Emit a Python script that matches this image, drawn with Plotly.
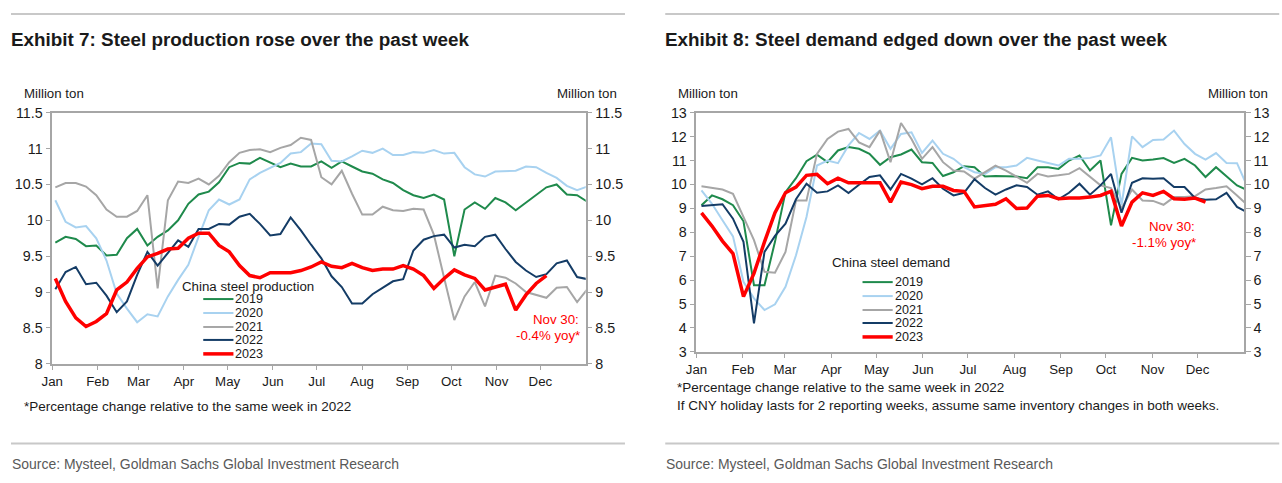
import plotly.graph_objects as go

# ---------------- data ----------------
years = ["2019", "2020", "2021", "2022", "2023"]
colors = ["#1f8a4c", "#a8d2f0", "#a6a6a6", "#143c66", "#ff0000"]
widths = [2, 2, 2, 2, 3.5]

month_labels = ["Jan", "Feb", "Mar", "Apr", "May", "Jun", "Jul", "Aug", "Sep", "Oct", "Nov", "Dec"]
month_start_day = [0, 31, 59, 90, 120, 151, 181, 212, 243, 273, 304, 334]

# Exhibit 7: weekly China steel production (million ton)
prod_2019 = [9.69, 9.77, 9.74, 9.64, 9.65, 9.51, 9.52, 9.75, 9.88, 9.65, 9.77, 9.86, 10.0, 10.23, 10.36, 10.4,
             10.53, 10.74, 10.8, 10.79, 10.87, 10.81, 10.74, 10.79, 10.75, 10.75, 10.82, 10.73, 10.82, 10.75,
             10.68, 10.65, 10.57, 10.52, 10.42, 10.35, 10.31, 10.36, 10.29, 9.5, 10.15, 10.25, 10.16, 10.31,
             10.25, 10.14, 10.25, 10.36, 10.46, 10.5, 10.36, 10.35, 10.26]
prod_2020 = [10.28, 9.98, 9.9, 9.92, 9.75, 9.44, 8.98, 8.77, 8.58, 8.69, 8.66, 8.94, 9.17, 9.38, 9.77, 10.14,
             10.29, 10.22, 10.29, 10.57, 10.66, 10.73, 10.8, 10.93, 10.95, 11.07, 11.06, 10.83, 10.82, 10.89,
             10.97, 10.94, 11.0, 10.91, 10.91, 10.95, 10.94, 10.98, 10.93, 10.94, 10.74, 10.64, 10.61, 10.68,
             10.69, 10.69, 10.75, 10.74, 10.66, 10.59, 10.48, 10.42, 10.47]
prod_2021 = [10.46, 10.52, 10.52, 10.47, 10.35, 10.15, 10.05, 10.05, 10.13, 10.35, 9.05, 10.28, 10.54, 10.52,
             10.58, 10.5, 10.62, 10.81, 10.94, 10.98, 10.99, 10.95, 11.01, 11.05, 11.15, 11.12, 10.6, 10.5,
             10.69, 10.37, 10.08, 10.08, 10.19, 10.14, 10.13, 10.16, 10.15, 9.8, 9.2, 8.61, 8.94, 9.14, 8.8,
             9.23, 9.2, 9.12, 9.0, 8.96, 8.92, 9.06, 9.07, 8.86, 9.04]
prod_2022 = [9.04, 9.28, 9.35, 9.11, 9.13, 8.95, 8.72, 8.87, 9.24, 9.56, 9.37, 9.55, 9.72, 9.63, 9.88, 9.88,
             9.95, 9.94, 10.05, 10.09, 9.95, 9.79, 9.81, 10.04, 9.86, 9.66, 9.47, 9.22, 9.07, 8.84, 8.84,
             8.97, 9.06, 9.15, 9.18, 9.58, 9.73, 9.78, 9.8, 9.62, 9.66, 9.64, 9.77, 9.8, 9.6, 9.42, 9.3,
             9.21, 9.25, 9.4, 9.44, 9.21, 9.18]
prod_2023 = [9.19, 8.87, 8.64, 8.52, 8.59, 8.7, 9.03, 9.14, 9.33, 9.49, 9.54, 9.6, 9.61, 9.75, 9.82, 9.82,
             9.65, 9.56, 9.37, 9.23, 9.2, 9.27, 9.27, 9.27, 9.3, 9.35, 9.42, 9.36, 9.34, 9.4, 9.34, 9.3,
             9.32, 9.32, 9.37, 9.32, 9.23, 9.05, 9.19, 9.31, 9.24, 9.19, 9.03, 9.07, 9.11, 8.75, 8.96,
             9.12, 9.23]

# Exhibit 8: weekly China steel demand (million ton)
dem_2019 = [9.13, 9.54, 9.38, 9.13, 8.46, 5.79, 5.79, 7.6, 9.68, 10.26, 10.97, 11.24, 10.93, 11.42, 11.56,
            11.49, 11.28, 10.82, 11.14, 11.25, 11.46, 10.93, 10.9, 10.35, 10.51, 10.76, 10.72, 10.33, 10.35,
            10.35, 10.33, 10.26, 10.72, 10.72, 10.65, 11.0, 11.21, 10.58, 11.0, 8.29, 10.44, 11.11, 11.0,
            11.04, 11.1, 10.9, 11.07, 10.79, 10.31, 10.72, 10.35, 9.96, 9.75]
dem_2020 = [9.75, 9.19, 8.5, 7.83, 5.93, 5.24, 4.75, 4.99, 5.72, 7.04, 8.64, 10.79, 11.0, 10.89, 11.63,
            12.15, 11.9, 12.25, 11.49, 12.11, 12.18, 11.32, 11.83, 11.28, 11.07, 10.72, 10.51, 10.44, 10.72,
            10.72, 10.79, 11.11, 11.0, 10.9, 10.79, 11.07, 11.07, 11.11, 11.21, 11.97, 9.13, 12.01, 11.56,
            11.86, 11.88, 12.25, 11.69, 11.28, 11.04, 11.31, 10.9, 10.89, 9.89]
dem_2021 = [9.92, 9.85, 9.79, 9.61, 8.64, 7.67, 6.35, 6.31, 7.18, 9.33, 9.33, 11.28, 11.9, 12.21, 12.32,
            11.76, 11.56, 12.25, 10.93, 12.57, 11.9, 11.07, 11.56, 10.93, 10.58, 10.54, 10.24, 10.51, 10.79,
            10.58, 10.31, 10.07, 10.44, 10.33, 10.38, 10.44, 10.68, 10.31, 9.96, 9.85, 8.99, 9.79, 9.33,
            9.31, 9.15, 9.47, 9.47, 9.51, 9.79, 9.85, 9.92, 9.54, 9.13]
dem_2022 = [9.1, 9.13, 9.17, 8.57, 7.6, 4.19, 7.18, 7.85, 8.36, 9.38, 10.03, 9.65, 9.71, 9.96, 9.64, 9.99,
            10.31, 10.38, 9.79, 10.44, 10.24, 10.0, 10.26, 9.82, 9.54, 9.65, 10.22, 9.85, 9.57, 9.79, 9.96,
            9.89, 9.57, 9.71, 9.38, 9.65, 10.03, 9.57, 9.96, 10.44, 8.82, 10.07, 10.26, 10.24, 10.26, 9.89,
            9.89, 9.43, 9.36, 9.38, 9.65, 9.06, 8.82]
dem_2023 = [8.81, 8.26, 7.63, 7.11, 5.31, 6.28, 7.6, 8.82, 9.65, 9.89, 10.38, 10.42, 10.03, 10.26, 10.07,
            10.07, 10.07, 10.07, 9.26, 10.1, 9.99, 9.82, 9.92, 9.92, 9.75, 9.71, 9.06, 9.12, 9.17, 9.4,
            8.99, 9.01, 9.51, 9.54, 9.4, 9.43, 9.43, 9.47, 9.54, 9.71, 8.26, 9.26, 9.65, 9.54, 9.71, 9.4,
            9.38, 9.43, 9.26]

production = [prod_2019, prod_2020, prod_2021, prod_2022, prod_2023]
demand = [dem_2019, dem_2020, dem_2021, dem_2022, dem_2023]

# ---------------- layout helpers ----------------
W, H = 1282, 483
# the photographed page shows the paper slightly inset/scaled; place items so they land on target pixels
OX, SX = 12.0, 0.985
OY, SY = 7.0, 0.970
FS = 1 / 0.978  # font compensation

def px(x):
    return ((x - OX) / SX) / W
def py(y):
    return 1 - ((y - OY) / SY) / H
def f(s):
    return round(s * FS, 2)

TXT = "#1a1a1a"
AX = "#a6a6a6"
BASE = "Liberation Sans, Arial, sans-serif"

fig = go.Figure()

for k, yr in enumerate(years):
    s = production[k]
    fig.add_trace(go.Scatter(x=list(range(len(s))), y=s, mode="lines", name=yr,
                             line=dict(color=colors[k], width=widths[k]),
                             xaxis="x", yaxis="y", showlegend=False, hoverinfo="skip"))
for k, yr in enumerate(years):
    s = demand[k]
    fig.add_trace(go.Scatter(x=list(range(len(s))), y=s, mode="lines", name=yr,
                             line=dict(color=colors[k], width=widths[k]),
                             xaxis="x2", yaxis="y3", showlegend=False, hoverinfo="skip"))

x_start_l, x_start_r = -0.3, -0.48
span = 365 / 7

def xaxis(dom, start):
    return dict(domain=dom, range=[start, start + span],
                tickvals=[start + d / 7 for d in month_start_day], ticktext=month_labels,
                showline=True, linecolor=AX, linewidth=1.5, mirror=True,
                ticks="outside", ticklen=4, tickcolor=AX, showgrid=False, zeroline=False,
                tickfont=dict(family=BASE, size=f(13), color=TXT), fixedrange=True)

def yaxis(dom, rng, dt, side, anchor, overlay=None):
    d = dict(domain=dom, range=rng, dtick=dt, tick0=rng[0], side=side, anchor=anchor,
             showline=True, linecolor=AX, linewidth=1.5,
             ticks="outside", ticklen=5, tickcolor=AX, showgrid=False, zeroline=False,
             tickfont=dict(family=BASE, size=f(14), color=TXT), fixedrange=True)
    if overlay:
        d["overlaying"] = overlay
    return d

ydom_l = [py(364), py(112)]
ydom_r = [py(352), py(112)]
xdom_l = [px(53), px(583)]
xdom_r = [px(693), px(1237)]

fig.update_layout(
    width=W, height=H, autosize=False,
    margin=dict(l=0, r=0, t=0, b=0),
    paper_bgcolor="white", plot_bgcolor="white",
    font=dict(family=BASE, color=TXT),
    xaxis=xaxis(xdom_l, x_start_l),
    yaxis=yaxis(ydom_l, [8, 11.5], 0.5, "left", "x"),
    yaxis2=yaxis(ydom_l, [8, 11.5], 0.5, "right", "x", overlay="y"),
    xaxis2=xaxis(xdom_r, x_start_r),
    yaxis3=yaxis(ydom_r, [3, 13], 1, "left", "x2"),
    yaxis4=yaxis(ydom_r, [3, 13], 1, "right", "x2", overlay="y3"),
)
fig.layout.xaxis2.anchor = "y3"

# invisible traces so the right-hand axes are drawn
fig.add_trace(go.Scatter(x=[0], y=[8], xaxis="x", yaxis="y2", mode="markers",
                         marker=dict(opacity=0), showlegend=False, hoverinfo="skip"))
fig.add_trace(go.Scatter(x=[0], y=[3], xaxis="x2", yaxis="y4", mode="markers",
                         marker=dict(opacity=0), showlegend=False, hoverinfo="skip"))

shapes = []
annots = []

def text(x, y, t, size=13, color=TXT, anchor="left", family=BASE, bold=False):
    annots.append(dict(x=px(x), y=py(y), xref="paper", yref="paper", text=("<b>%s</b>" % t) if bold else t,
                       showarrow=False, xanchor=anchor, yanchor="middle", borderpad=0,
                       font=dict(size=f(size), color=color, family=family)))

# rules
for (x0, x1) in [(12, 622), (662, 1272)]:
    for yy in (13, 444):
        shapes.append(dict(type="line", xref="paper", yref="paper", x0=px(x0), x1=px(x1),
                           y0=py(yy), y1=py(yy), line=dict(color="#c8c8c8", width=2)))

# titles
text(11, 39, "Exhibit 7: Steel production rose over the past week", size=18.45, bold=True)
text(661, 39, "Exhibit 8: Steel demand edged down over the past week", size=18.45, bold=True)

# unit labels
text(24, 93, "Million ton")
text(615, 93, "Million ton", anchor="right")
text(674, 93, "Million ton")
text(1262, 93, "Million ton", anchor="right")

# legends
def legend(title, tx, ty, lx0, rows_y):
    text(tx, ty, title)
    for k, yr in enumerate(years):
        shapes.append(dict(type="line", xref="paper", yref="paper", x0=px(lx0), x1=px(lx0 + 30),
                           y0=py(rows_y[k]), y1=py(rows_y[k]),
                           line=dict(color=colors[k], width=widths[k])))
        text(lx0 + 31, rows_y[k], yr, size=12.3)

legend("China steel production", 181, 286, 203, [299, 313, 327, 340, 354])
legend("China steel demand", 827, 262, 858, [282, 296, 310, 323, 337])

# callouts
text(577, 320, "Nov 30:", color="#ff0000", anchor="right")
text(578, 336, "-0.4% yoy*", color="#ff0000", anchor="right")
text(1189, 226, "Nov 30:", color="#ff0000", anchor="right")
text(1190, 242, "-1.1% yoy*", color="#ff0000", anchor="right")

# footnotes
text(24, 407, "*Percentage change relative to the same week in 2022", size=13.2)
text(673, 388, "*Percentage change relative to the same week in 2022", size=13.2)
text(673, 406, "If CNY holiday lasts for 2 reporting weeks, assume same inventory changes in both weeks.", size=13.2)

# sources
text(12, 464, "Source: Mysteel, Goldman Sachs Global Investment Research", size=13.65, color="#595959")
text(662, 464, "Source: Mysteel, Goldman Sachs Global Investment Research", size=13.65, color="#595959")

fig.update_layout(shapes=shapes, annotations=annots)
fig.write_html("out.html", config={"displayModeBar": False},
               post_script="document.body.style.margin='0';document.body.style.padding='0';")
